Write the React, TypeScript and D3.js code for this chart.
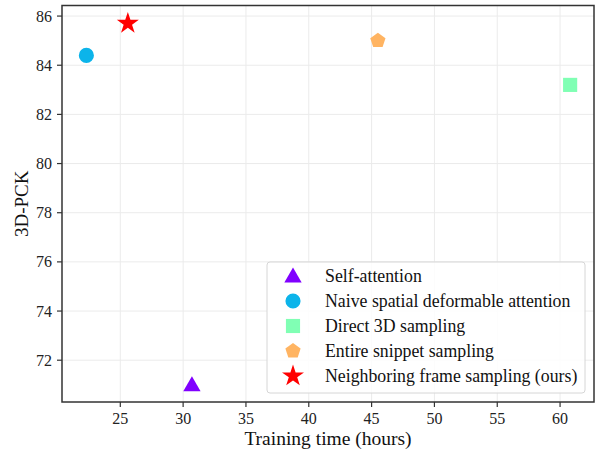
import React from "react";
import * as d3 from "d3";

const methods = [
  "Self-attention",
  "Naive spatial deformable attention",
  "Direct 3D sampling",
  "Entire snippet sampling",
  "Neighboring frame sampling (ours)",
];
const trainingHours = [30.7, 22.3, 60.8, 45.5, 25.6];
const pck = [71.0, 84.4, 83.2, 85.0, 85.7];
const shapes = ["triangle", "circle", "square", "pentagon", "star"];
const colors = ["#8000ff", "#0cb4ea", "#80ffb4", "#ffb462", "#ff0000"];
const xTicks = [25, 30, 35, 40, 45, 50, 55, 60];
const yTicks = [72, 74, 76, 78, 80, 82, 84, 86];

const W = 595, H = 453;
const L = 62, R = 594, T = 5.5, B = 402;
const FONT = "Liberation Serif, Times New Roman, DejaVu Serif, serif";

function Marker({ shape, cx, cy, color }: { shape: string; cx: number; cy: number; color: string }) {
  if (shape === "pentagon") {
    const r = 8;
    const pts = d3.range(5).map((i) => {
      const a = -Math.PI / 2 + (i * 2 * Math.PI) / 5;
      return [cx + r * Math.cos(a), cy + r * Math.sin(a)].join(",");
    });
    return <polygon points={pts.join(" ")} fill={color} />;
  }
  const sym: Record<string, [d3.SymbolType, number]> = {
    triangle: [d3.symbolTriangle, 130],
    circle: [d3.symbolCircle, 180],
    square: [d3.symbolSquare, 200],
    star: [d3.symbolStar, 150],
  };
  const [t, s] = sym[shape];
  const dy = shape === "triangle" ? 1.5 : 0;
  return (
    <path d={d3.symbol().type(t).size(s)() as string} transform={`translate(${cx},${cy + dy})`} fill={color} />
  );
}

export default function App() {
  const x = d3.scaleLinear().domain([20.36, 62.7]).range([L, R]);
  const y = d3.scaleLinear().domain([70.3, 86.43]).range([B, T]);

  const legX = 267, legY = 262, legW = 318, legH = 131;

  return (
    <svg width={W} height={H} style={{ position: "absolute", left: 0, top: 0, fontFamily: FONT }}>
      <rect width={W} height={H} fill="#fff" />
      {xTicks.map((t) => (
        <line key={"gx" + t} x1={x(t)} x2={x(t)} y1={T} y2={B} stroke="#ebebeb" strokeWidth={1} />
      ))}
      {yTicks.map((t) => (
        <line key={"gy" + t} x1={L} x2={R} y1={y(t)} y2={y(t)} stroke="#ebebeb" strokeWidth={1} />
      ))}
      {methods.map((m, i) => (
        <Marker key={m} shape={shapes[i]} cx={x(trainingHours[i])} cy={y(pck[i])} color={colors[i]} />
      ))}
      <rect x={L} y={T} width={R - L} height={B - T} fill="none" stroke="#333" strokeWidth={1.5} />
      {xTicks.map((t) => (
        <g key={"tx" + t}>
          <line x1={x(t)} x2={x(t)} y1={B} y2={B + 5} stroke="#333" strokeWidth={1.2} />
          <text x={x(t)} y={424} textAnchor="middle" fontSize={16} fill="#222">{t}</text>
        </g>
      ))}
      {yTicks.map((t) => (
        <g key={"ty" + t}>
          <line x1={L - 5} x2={L} y1={y(t)} y2={y(t)} stroke="#333" strokeWidth={1.2} />
          <text x={L - 10} y={y(t)} dy="0.35em" textAnchor="end" fontSize={16} fill="#222">{t}</text>
        </g>
      ))}
      <text x={(L + R) / 2} y={445} textAnchor="middle" fontSize={19.5} fill="#111">Training time (hours)</text>
      <text transform={`translate(28,${(T + B) / 2}) rotate(-90)`} textAnchor="middle" fontSize={19} fill="#111">3D-PCK</text>
      <rect x={legX} y={legY} width={legW} height={legH} rx={3} fill="#fff" fillOpacity={0.85} stroke="#d6d6d6" strokeWidth={1} />
      {methods.map((m, i) => {
        const cy = 276 + i * 25;
        return (
          <g key={"leg" + m}>
            <Marker shape={shapes[i]} cx={293} cy={cy} color={colors[i]} />
            <text x={325} y={cy} dy="0.35em" fontSize={17.8} fill="#111">{m}</text>
          </g>
        );
      })}
    </svg>
  );
}
